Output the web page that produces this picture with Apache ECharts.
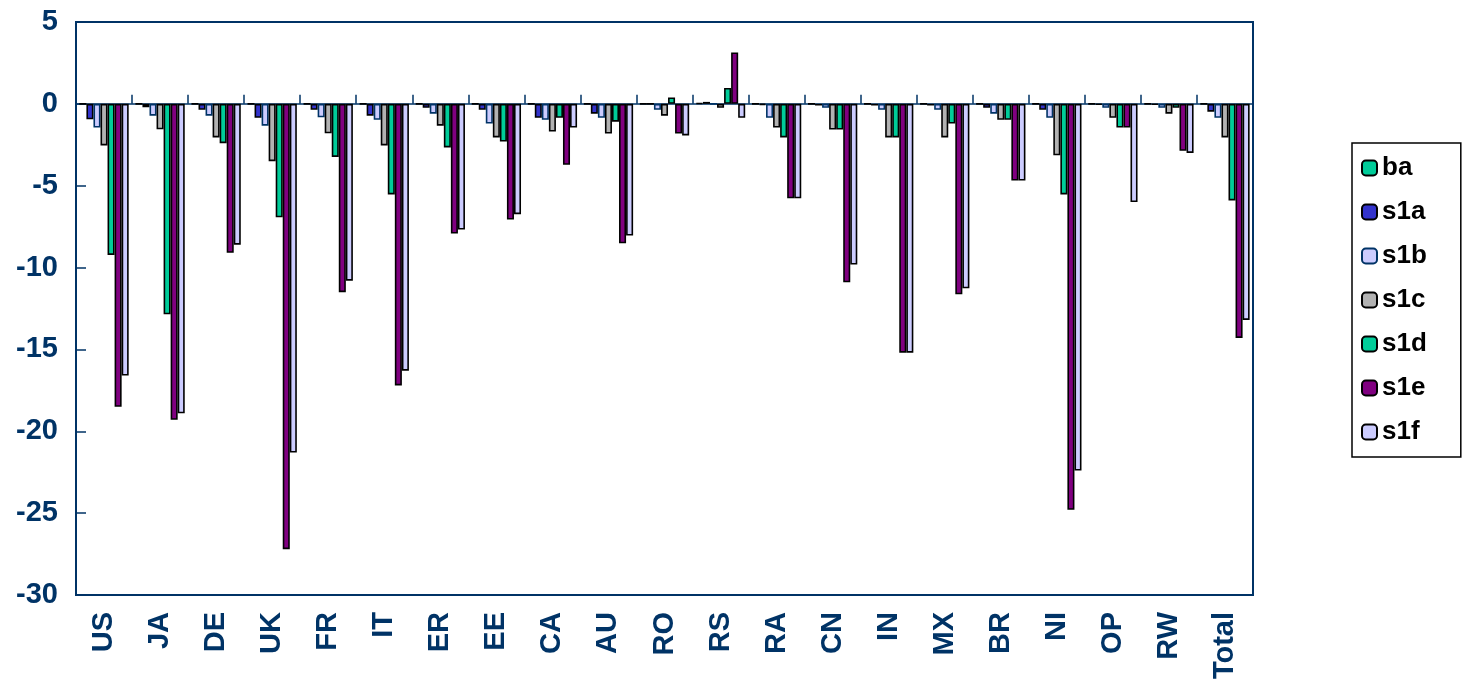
<!DOCTYPE html>
<html>
<head>
<meta charset="utf-8">
<script src="https://cdn.jsdelivr.net/npm/echarts@6/dist/echarts.min.js"></script>
<style>
html,body{margin:0;padding:0;background:#fff;}
#c{width:1468px;height:690px;}
</style>
</head>
<body>
<div id="c"></div>
<script>
const categories = ['US','JA','DE','UK','FR','IT','ER','EE','CA','AU','RO','RS','RA','CN','IN','MX','BR','NI','OP','RW','Total'];
const yTicks = [5,0,-5,-10,-15,-20,-25,-30];
const ba  = [0,0,0,0,0,0,0,0,0,0,0,0.05,0,0,0,0,0,0,0,0,0];
const s1a = [-0.94,-0.2,-0.36,-0.85,-0.36,-0.72,-0.24,-0.36,-0.85,-0.6,0,0.12,-0.06,-0.1,-0.1,-0.1,-0.24,-0.36,-0.05,-0.05,-0.48];
const s1b = [-1.45,-0.72,-0.72,-1.33,-0.82,-0.97,-0.6,-1.2,-0.97,-0.85,-0.36,0,-0.85,-0.24,-0.36,-0.36,-0.6,-0.85,-0.24,-0.24,-0.85];
const s1c = [-2.54,-1.55,-2.05,-3.5,-1.8,-2.54,-1.33,-2.05,-1.69,-1.81,-0.72,-0.24,-1.45,-1.57,-2.05,-2.05,-0.97,-3.14,-0.85,-0.6,-2.05];
const s1d = [-9.23,-12.85,-2.4,-6.93,-3.24,-5.53,-2.66,-2.3,-0.85,-1.09,0.39,0.97,-2.05,-1.57,-2.05,-1.2,-0.97,-5.53,-1.45,-0.24,-5.9];
const s1e = [-18.5,-19.3,-9.1,-27.2,-11.5,-17.2,-7.92,-7.07,-3.72,-8.52,-1.81,3.14,-5.77,-10.9,-15.2,-11.63,-4.68,-24.8,-1.45,-2.87,-14.3];
const s1f = [-16.6,-18.9,-8.6,-21.3,-10.8,-16.3,-7.68,-6.74,-1.45,-8.04,-1.93,-0.85,-5.77,-9.82,-15.2,-11.27,-4.68,-22.4,-6.0,-3.0,-13.2];

const seriesDefs = [
  {name:'ba', data:ba, color:'#00CC99', border:'#000'},
  {name:'s1a', data:s1a, color:'#3333CC', border:'#000'},
  {name:'s1b', data:s1b, color:'#CCCCFF', border:'#003366'},
  {name:'s1c', data:s1c, color:'#B2B2B2', border:'#000'},
  {name:'s1d', data:s1d, color:'#00CC99', border:'#000'},
  {name:'s1e', data:s1e, color:'#800080', border:'#000'},
  {name:'s1f', data:s1f, color:'#CCCCFF', border:'#000'}
];

const navy = '#003366';
const font = 'Liberation Sans, Arial, sans-serif';
const chart = echarts.init(document.getElementById('c'));
chart.setOption({
  animation:false,
  backgroundColor:'#fff',
  grid:{left:76,right:215,top:22,height:573,show:true,borderColor:navy,borderWidth:2,backgroundColor:'transparent'},
  legend:{
    orient:'vertical', left:1352, top:143,
    backgroundColor:'#fff', borderColor:'#000', borderWidth:1.5,
    padding:[11,34,11,9], itemGap:16, itemWidth:15, itemHeight:15,
    textStyle:{fontFamily:font, fontWeight:'bold', fontSize:26, color:'#000', lineHeight:28},
    data:seriesDefs.map(s=>s.name)
  },
  xAxis:[
    {type:'category', data:categories, position:'bottom',
     axisLine:{onZero:true, lineStyle:{color:navy,width:1.5}},
     axisTick:{show:true, inside:true, length:9, lineStyle:{color:navy,width:1.5}},
     axisLabel:{show:false}, splitLine:{show:false}},
    {type:'category', data:categories, position:'bottom',
     axisLine:{show:false, onZero:false}, axisTick:{show:false},
     axisLabel:{rotate:90, margin:17, fontFamily:font, fontWeight:'bold', fontSize:29, color:navy},
     splitLine:{show:false}}
  ],
  yAxis:{
    type:'value', min:-30, max:5, interval:5,
    axisLine:{show:true, lineStyle:{color:navy,width:2}},
    axisTick:{show:true, inside:true, length:10, lineStyle:{color:navy,width:1.5}},
    axisLabel:{margin:18, fontFamily:font, fontWeight:'bold', fontSize:29, color:navy,
      formatter:v=>yTicks.includes(v)?String(v):''},
    splitLine:{show:false}
  },
  series:seriesDefs.map(s=>({
    name:s.name, type:'bar', xAxisIndex:0, data:s.data,
    barGap:'0%', barCategoryGap:'12%',
    itemStyle:{color:s.color, borderColor:s.border, borderWidth:1.6}
  }))
});
</script>
</body>
</html>
